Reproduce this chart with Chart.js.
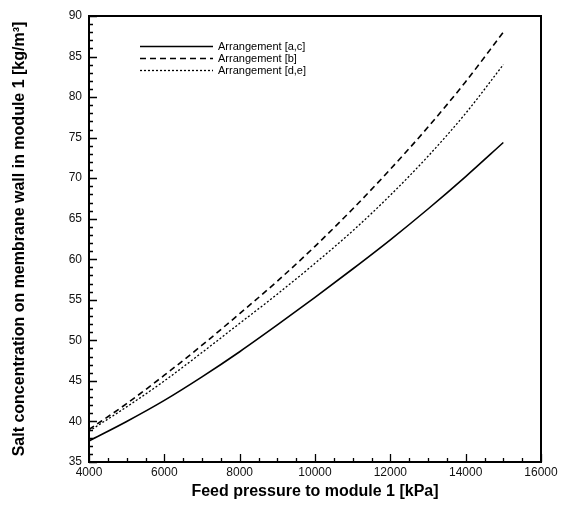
<!DOCTYPE html>
<html>
<head>
<meta charset="utf-8">
<script src="https://cdn.jsdelivr.net/npm/chart.js@4"></script>
<style>
  html, body { margin: 0; padding: 0; background: #fff; }
  #wrap { width: 569px; height: 511px; }
</style>
</head>
<body>
<div id="wrap"><canvas id="chart" width="569" height="511"></canvas></div>
<script>
// feed pressure [kPa]
const pressure = [4000, 5000, 6000, 7000, 8000, 9000, 10000, 11000, 12000, 13000, 14000, 15000];
// salt concentration on membrane wall [kg/m3]
const arrAC = [37.6, 40.0, 42.6, 45.5, 48.6, 51.9, 55.3, 58.8, 62.4, 66.2, 70.2, 74.4];
const arrB  = [39.0, 42.2, 45.7, 49.4, 53.3, 57.3, 61.6, 66.2, 71.1, 76.3, 81.9, 88.0];
const arrDE = [38.8, 41.8, 45.0, 48.5, 52.1, 55.7, 59.5, 63.5, 67.9, 72.7, 78.0, 84.0];
const seriesNames = ['Arrangement [a,c]', 'Arrangement [b]', 'Arrangement [d,e]'];

const FONT = 'Liberation Sans, Arial, sans-serif';

const pts = ys => pressure.map((p, i) => ({ x: p, y: ys[i] }));

// box frame + inward ticks, drawn off the chart's own scales
const frameTicks = {
  id: 'frameTicks',
  afterDraw(chart) {
    const { ctx, chartArea: a, scales: { x, y } } = chart;
    ctx.save();
    ctx.strokeStyle = '#000';
    ctx.lineWidth = 2;
    ctx.strokeRect(a.left, a.top, a.right - a.left, a.bottom - a.top);
    ctx.lineWidth = 1.3;
    ctx.beginPath();
    for (let v = x.min; v <= x.max; v += 500) {
      const px = Math.round(x.getPixelForValue(v)) + 0.5;
      const len = v % 2000 === 0 ? 8 : 4;
      ctx.moveTo(px, a.bottom);
      ctx.lineTo(px, a.bottom - len);
    }
    for (let v = y.min; v <= y.max; v += 1) {
      const py = Math.round(y.getPixelForValue(v)) + 0.5;
      const len = v % 5 === 0 ? 8 : 4;
      ctx.moveTo(a.left, py);
      ctx.lineTo(a.left + len, py);
    }
    ctx.stroke();
    ctx.restore();
  }
};

// legend inside the plot, top-left
const innerLegend = {
  id: 'innerLegend',
  afterDraw(chart) {
    const { ctx } = chart;
    ctx.save();
    ctx.font = '11px ' + FONT;
    ctx.fillStyle = '#000';
    ctx.textBaseline = 'middle';
    chart.data.datasets.forEach((ds, i) => {
      const yy = 46.5 + i * 12;
      ctx.strokeStyle = '#000';
      ctx.lineWidth = ds.borderWidth;
      ctx.setLineDash(ds.borderDash || []);
      ctx.beginPath();
      ctx.moveTo(140, yy);
      ctx.lineTo(213, yy);
      ctx.stroke();
      ctx.setLineDash([]);
      ctx.fillText(ds.label, 218, yy);
    });
    ctx.restore();
  }
};

new Chart(document.getElementById('chart'), {
  type: 'line',
  data: {
    datasets: [
      { label: seriesNames[0], data: pts(arrAC), borderColor: '#000', borderWidth: 1.6, borderDash: [] },
      { label: seriesNames[1], data: pts(arrB),  borderColor: '#000', borderWidth: 1.6, borderDash: [6, 4] },
      { label: seriesNames[2], data: pts(arrDE), borderColor: '#000', borderWidth: 1.3, borderDash: [2, 2] },
    ].map(d => ({ ...d, pointRadius: 0, cubicInterpolationMode: 'monotone', fill: false })),
  },
  options: {
    responsive: false,
    animation: false,
    layout: { padding: { left: 0, top: 16, right: 28, bottom: 0 } },
    plugins: { legend: { display: false }, tooltip: { enabled: false } },
    scales: {
      x: {
        type: 'linear', min: 4000, max: 16000,
        grid: { display: false, drawTicks: false },
        border: { display: false },
        ticks: { stepSize: 2000, padding: 3, color: '#111', font: { family: FONT, size: 12 }, maxRotation: 0,
                 callback: v => String(v) },
        title: { display: true, text: 'Feed pressure to module 1 [kPa]', color: '#000',
                 font: { family: FONT, size: 16, weight: 'bold' }, padding: { top: 0, bottom: 10 } },
        afterFit: s => { s.height = 49; },
      },
      y: {
        min: 35, max: 90,
        grid: { display: false, drawTicks: false },
        border: { display: false },
        ticks: { stepSize: 5, padding: 7, color: '#111', font: { family: FONT, size: 12 } },
        title: { display: true, text: 'Salt concentration on membrane wall in module 1 [kg/m³]', color: '#000',
                 font: { family: FONT, size: 16, weight: 'bold' }, padding: { top: 10, bottom: 0 } },
        afterFit: s => { s.width = 89; },
      },
    },
  },
  plugins: [frameTicks, innerLegend],
});
</script>
</body>
</html>
